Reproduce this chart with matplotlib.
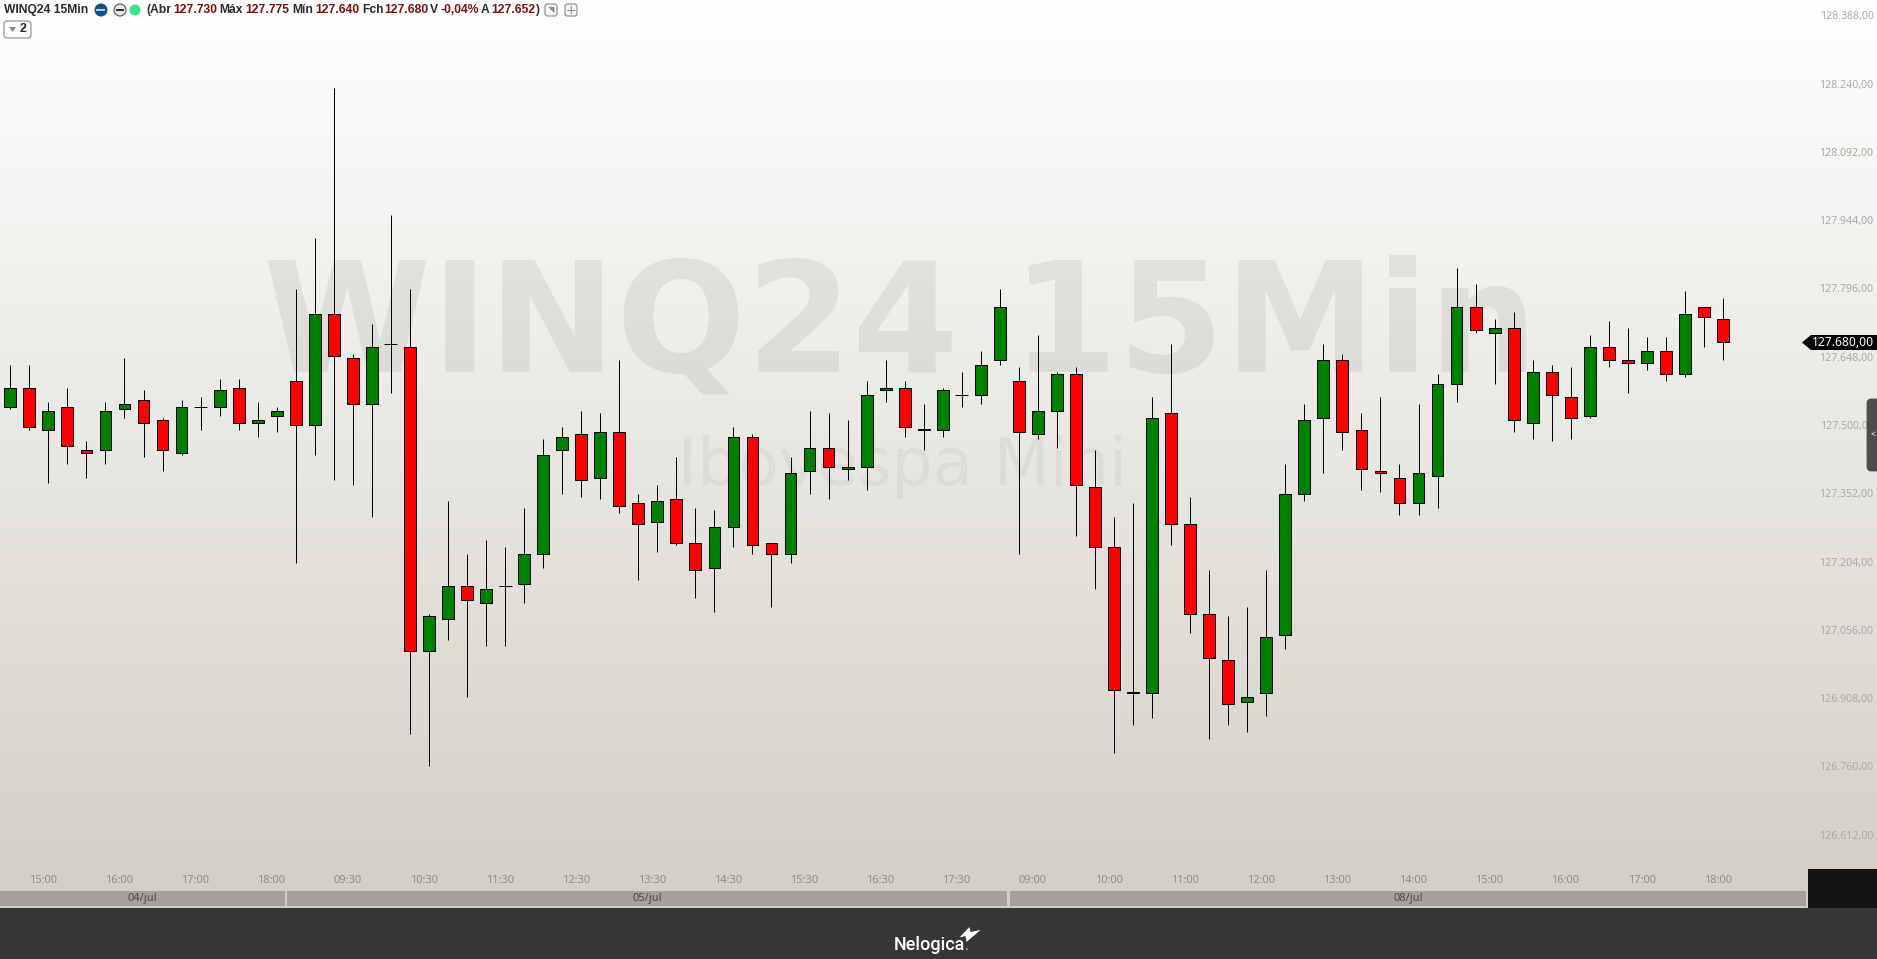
import numpy as np
import matplotlib
matplotlib.use('Agg')
import matplotlib.pyplot as plt
from matplotlib.patches import Rectangle, Circle, Polygon, FancyBboxPatch

# Dados (WINQ24 15Min)
opens = [127540, 127580, 127490, 127540, 127445, 127445, 127535, 127555, 127510, 127440, 127540,
         127540, 127580, 127505, 127520, 127595, 127500, 127740, 127645, 127545, 127675, 127670,
         127010, 127080, 127150, 127115, 127150, 127155, 127220, 127445, 127480, 127385, 127485,
         127330, 127290, 127340, 127245, 127190, 127280, 127475, 127245, 127220, 127400, 127450,
         127405, 127410, 127575, 127580, 127492, 127490, 127565, 127565, 127640, 127595, 127480,
         127530, 127610, 127365, 127235, 126922, 126920, 127525, 127285, 127090, 126990, 126900,
         126920, 127045, 127350, 127515, 127640, 127490, 127400, 127385, 127330, 127390, 127590,
         127755, 127700, 127710, 127505, 127615, 127560, 127520, 127670, 127640, 127635, 127660,
         127610, 127755, 127730]
highs = [127630, 127630, 127550, 127580, 127465, 127550, 127645, 127575, 127515, 127555, 127560,
         127600, 127600, 127550, 127540, 127795, 127905, 128230, 127655, 127720, 127955, 127795,
         127090, 127335, 127220, 127250, 127235, 127320, 127470, 127495, 127530, 127525, 127640,
         127350, 127370, 127430, 127320, 127315, 127495, 127480, 127245, 127430, 127530, 127525,
         127510, 127595, 127640, 127595, 127545, 127580, 127615, 127660, 127795, 127625, 127695,
         127615, 127625, 127445, 127300, 127330, 127560, 127675, 127345, 127185, 127085, 127105,
         127185, 127415, 127545, 127675, 127655, 127525, 127560, 127415, 127545, 127610, 127840,
         127805, 127730, 127745, 127640, 127630, 127625, 127695, 127725, 127710, 127690, 127690,
         127790, 127755, 127775]
lows = [127535, 127490, 127375, 127415, 127385, 127415, 127515, 127430, 127400, 127435, 127490,
        127520, 127490, 127475, 127485, 127200, 127435, 127380, 127370, 127300, 127570, 126830,
        126760, 127035, 126910, 127020, 127020, 127115, 127190, 127350, 127345, 127340, 127310,
        127165, 127225, 127240, 127125, 127095, 127235, 127220, 127105, 127200, 127350, 127340,
        127380, 127360, 127550, 127475, 127445, 127475, 127540, 127545, 127630, 127220, 127470,
        127450, 127260, 127145, 126790, 126850, 126865, 127240, 127050, 126820, 126850, 126835,
        126870, 127015, 127335, 127395, 127445, 127360, 127355, 127305, 127305, 127320, 127550,
        127700, 127590, 127485, 127470, 127465, 127470, 127515, 127625, 127570, 127620, 127595,
        127605, 127670, 127640]
closes = [127580, 127495, 127530, 127455, 127440, 127530, 127545, 127505, 127445, 127540, 127540,
          127575, 127505, 127510, 127530, 127500, 127740, 127650, 127545, 127670, 127675, 127010,
          127085, 127150, 127120, 127145, 127150, 127220, 127435, 127475, 127380, 127485, 127325,
          127285, 127335, 127245, 127185, 127280, 127475, 127240, 127220, 127395, 127450, 127410,
          127410, 127565, 127580, 127495, 127490, 127575, 127565, 127630, 127755, 127485, 127530,
          127610, 127370, 127235, 126925, 126920, 127515, 127285, 127090, 126995, 126895, 126910,
          127040, 127350, 127510, 127640, 127485, 127405, 127395, 127330, 127395, 127590, 127755,
          127705, 127710, 127510, 127615, 127565, 127515, 127670, 127640, 127635, 127660, 127610,
          127740, 127735, 127680]

time_labels = ['15:00', '16:00', '17:00', '18:00',
               '09:30', '10:30', '11:30', '12:30', '13:30', '14:30', '15:30', '16:30', '17:30',
               '09:00', '10:00', '11:00', '12:00', '13:00', '14:00', '15:00', '16:00', '17:00', '18:00']
price_ticks = [128388, 128240, 128092, 127944, 127796, 127648, 127500,
               127352, 127204, 127056, 126908, 126760, 126612]
last_price = 127680

W, H = 1877, 959
FOOT = 908
DARK_RED = '#7b0f12'
DARK = '#2a2a2a'
HDR_FONT = 'Liberation Sans'

plt.rcParams['font.family'] = ['Noto Sans', 'DejaVu Sans']
fig = plt.figure(figsize=(W / 100, H / 100), dpi=100, facecolor='#363537')

# Eixo principal
ax = fig.add_axes([0, (H - FOOT) / H, 1, FOOT / H])
n = np.arange(len(opens))
ax.set_xlim(-0.541, (W - 10.3) / 19.03)
ax.set_ylim(127680 + (342 - FOOT) * 2.168, 127680 + 342 * 2.168)
for s in ax.spines.values():
    s.set_visible(False)

# Fundo em degrade
grad = np.linspace(0, 1, 256).reshape(-1, 1, 1)
top = np.array([1.0, 1.0, 1.0])
bot = np.array([0xd2, 0xcf, 0xc4]) / 255
ax.imshow(top + (bot - top) * grad, extent=[*ax.get_xlim(), *ax.get_ylim()], aspect='auto', zorder=0)

# Marcas d'agua
ax.text(900 / W, 1 - 371 / FOOT, 'WINQ24 15Min', transform=ax.transAxes, ha='center', va='baseline',
        fontsize=110, fontweight='bold', family='DejaVu Sans', color='black', alpha=0.065, zorder=1)
ax.text(903 / W, 1 - 485 / FOOT, 'Ibovespa Mini', transform=ax.transAxes, ha='center', va='baseline',
        fontsize=47, family='DejaVu Sans', color='black', alpha=0.045, zorder=1)

# Candles
opens_a, highs_a, lows_a, closes_a = map(np.array, (opens, highs, lows, closes))
ax.vlines(n, lows_a, highs_a, color='black', lw=0.72, zorder=2)
colors = np.where(closes_a > opens_a, '#008000', '#ff0000')
body = closes_a != opens_a
ax.bar(n[body], (closes_a - opens_a)[body], bottom=opens_a[body], width=0.62,
       color=colors[body], edgecolor='black', linewidth=0.72, zorder=3)
ax.hlines(closes_a[~body], n[~body] - 0.34, n[~body] + 0.34, color='black', lw=0.72, zorder=3)

# Eixos de preco e tempo, dentro da area do grafico
ax.set_yticks(price_ticks)
ax.set_yticklabels([f'{p // 1000}.{p % 1000:03d},00' for p in price_ticks])
ax.yaxis.tick_right()
ax.tick_params(axis='y', length=0, pad=-2.5, labelsize=7.6, labelcolor='#aaa9a4')
for t in ax.get_yticklabels():
    t.set_ha('right')
ax.set_xticks(n[2::4] - 0.28)
ax.set_xticklabels(time_labels)
ax.tick_params(axis='x', length=0, pad=-24, labelsize=8, labelcolor='#8f8c85')

# Elementos da interface, em pixels
ui = fig.add_axes([0, 0, 1, 1], zorder=5)
ui.set_xlim(0, W)
ui.set_ylim(H, 0)
ui.axis('off')

for x0, x1, label in [(0, 285, '04/jul'), (287, 1007, '05/jul'), (1010, 1806, '08/jul')]:
    ui.add_patch(Rectangle((x0, 891), x1 - x0, 15, fc='#a5a299', ec='none'))
    ui.text((x0 + x1) / 2, 899, label, ha='center', va='center', fontsize=8, color='#4c4a44')
ui.add_patch(Rectangle((1808, 869), W - 1808, FOOT - 869, fc='#141414', ec='none'))

# Etiqueta do ultimo preco
ui.add_patch(Polygon([(1802, 342.5), (1811, 335), (W, 335), (W, 350), (1811, 350)], fc='black', ec='none'))
ui.text(1874, 342.5, f'{last_price // 1000}.{last_price % 1000:03d},00', ha='right', va='center',
        fontsize=8.7, color='white')

# Aba lateral
ui.add_patch(FancyBboxPatch((1868, 400), 12, 70, boxstyle='round,pad=0,rounding_size=3', fc='#4d4d4d', ec='#4d4d4d', lw=2))
ui.text(1873, 435, '<', ha='center', va='center', fontsize=6, color='white')

# Cabecalho
hdr_y = 10
ui.text(4, hdr_y, 'WINQ24 15Min', va='center', fontsize=8.7, fontweight='bold', family=HDR_FONT, color=DARK)
ui.add_patch(Circle((101, hdr_y), 6.5, fc='#0f4f8f', ec='none'))
ui.add_patch(Rectangle((96.5, hdr_y - 1), 9, 2, fc='white', ec='none', alpha=0.7))
ui.add_patch(Circle((120, hdr_y), 6, fc='#e8e8e8', ec='#555555', lw=0.8))
ui.add_patch(Rectangle((116, hdr_y - 0.7), 8, 1.4, fc='#333333', ec='none'))
ui.add_patch(Circle((135, hdr_y), 5.5, fc='#37e58a', ec='none'))
header = [(146, '(Abr', DARK), (173, '127.730', DARK_RED), (219, 'Máx', DARK), (245, '127.775', DARK_RED),
          (292, 'Mín', DARK), (315, '127.640', DARK_RED), (362, 'Fch', DARK), (384, '127.680', DARK_RED),
          (430, 'V', DARK), (441, '-0,04%', DARK_RED), (481, 'A', DARK), (491, '127.652', DARK_RED), (535.5, ')', DARK)]
for x, s, c in header:
    ui.text(x, hdr_y, s, va='center', fontsize=8.7, fontweight='bold', family=HDR_FONT, color=c)
for cx, s in [(551, '◥'), (571, '+')]:
    ui.add_patch(FancyBboxPatch((cx - 6, hdr_y - 6), 12, 12, boxstyle='round,pad=0,rounding_size=2.5', fc='#f6f6f6', ec='#8a8a8a', lw=0.8))
    ui.text(cx, hdr_y, s, ha='center', va='center', fontsize=6 if s != '+' else 9, color='#8a8a8a', family='DejaVu Sans')
ui.add_patch(FancyBboxPatch((4, 21), 27, 17, boxstyle='round,pad=0,rounding_size=3', fc='#fcfcfc', ec='#8a8a8a', lw=0.8))
ui.add_patch(Polygon([(9, 27), (16, 27), (12.5, 32)], fc='#8a8a8a', ec='none'))
ui.text(20, 29.5, '2', va='center', fontsize=9, fontweight='bold', family=HDR_FONT, color=DARK)

# Logo no rodape
ui.text(894, 945, 'Nelogica', va='center', fontsize=13, fontweight='medium', family='Roboto', color='white')
ui.add_patch(Polygon([(959.5, 937.5), (969.5, 927), (970.5, 932), (980.5, 930), (966.5, 942), (965.5, 936)], fc='white', ec='none'))
ui.add_patch(Circle((967, 949), 1.2, fc='#8a8a8a', ec='none'))

fig.savefig('out.png', dpi=100, facecolor=fig.get_facecolor())
